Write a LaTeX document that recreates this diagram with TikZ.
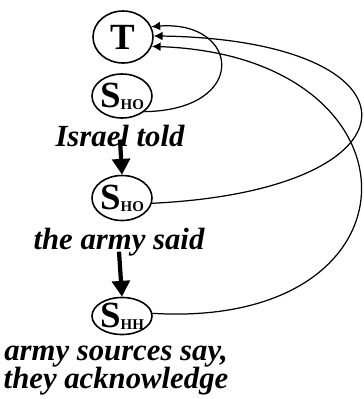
\documentclass[tikz,border=0pt]{standalone}
\usepackage{fontspec}
\setmainfont{Liberation Serif}
\usetikzlibrary{arrows.meta,shapes.geometric}
\tikzset{
  st/.style={draw,ellipse,line width=0.9pt,minimum width=1.2cm,inner sep=0pt,inner xsep=-2pt,
             font=\fontsize{21}{21}\selectfont\bfseries},
  lbl/.style={font=\fontsize{17.5}{16}\selectfont\bfseries\itshape,align=center,inner sep=0pt},
  thk/.style={-{Triangle[width=10pt,length=9pt]},line width=2.4pt},
  back/.style={-{Latex[length=5pt,width=5pt]},line width=0.7pt},
}
\newcommand{\sub}[1]{\raisebox{-1pt}{\fontsize{8.5}{9}\selectfont #1}}
\begin{document}
\begin{tikzpicture}[x=0.02cm,y=-0.02cm]
\useasboundingbox (0,0) rectangle (363,399);
% states
\node[st,minimum height=1.04cm] (T) at (123,37) {T};
\node[st,minimum height=0.88cm] (sho1) at (122,96) {S\sub{HO}};
\node[st,minimum height=0.9cm] (sho2) at (122,198) {S\sub{HO}};
\node[st,minimum height=0.72cm] (shh) at (122,316) {S\sub{HH}};
% sources
\node[lbl] (lbl1) at (120,136) {Israel told};
\node[lbl] (lbl2) at (119,242) {the army said};
\node[lbl] (lbl3) at (116,371) {army sources say,\\they acknowledge};
% nesting
\draw[thk] ([yshift=-2pt]lbl1.center) -- (sho2.north);
\draw[thk] ([yshift=-5.5pt]lbl2.center) -- (shh.north);
% back to T
\draw[back] (sho1.-35) .. controls (250,110) and (240,20) .. (T.20);
\draw[back] (sho2.-10) .. controls (430,190) and (430,40) .. (T.2);
\draw[back] (shh.5) .. controls (430,330) and (430,56) .. (T.-18);
\end{tikzpicture}
\end{document}
